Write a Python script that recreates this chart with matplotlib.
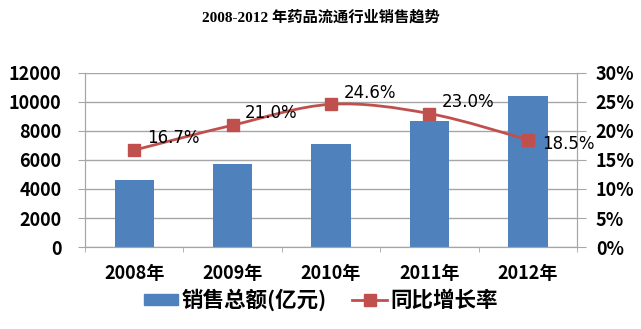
import matplotlib.pyplot as plt
from matplotlib.path import Path
from matplotlib.patches import PathPatch, Patch
from matplotlib.lines import Line2D
import numpy as np

plt.rcParams['font.family'] = ['Noto Sans CJK SC', 'DejaVu Sans']

# Data
years = ["2008年", "2009年", "2010年", "2011年", "2012年"]
sales = [4650, 5690, 7070, 8690, 10400]
growth = [16.7, 21.0, 24.6, 23.0, 18.5]

bar_color = "#4F81BD"
line_color = "#C0504D"
grid_color = "#A6A6A6"

fig = plt.figure(figsize=(6.41, 3.29), dpi=100)
ax = fig.add_axes([0.1326, 0.2492, 0.7676, 0.529])
ax2 = ax.twinx()

x = np.arange(len(years))
ax.bar(x, sales, width=0.4, color=bar_color, zorder=2)
ax.set_xlim(-0.5, len(years) - 0.5)
ax.set_ylim(0, 12000)
ax.set_yticks(range(0, 12001, 2000))
ax.grid(axis="y", color=grid_color, linewidth=1, zorder=0)
ax.set_axisbelow(True)
ax.set_xticks(x)
ax.set_xticklabels(years, fontsize=13, fontweight="bold")
ax.set_xticks(np.arange(-0.5, len(years), 1), minor=True)
ax.tick_params(axis="x", which="major", length=0, pad=12)
ax.tick_params(axis="x", which="minor", length=3.5, color=grid_color)
ax.tick_params(axis="y", length=5, color=grid_color, labelsize=13, pad=12)
for lab in ax.get_yticklabels():
    lab.set_fontweight("bold")

for a in (ax, ax2):
    a.spines["top"].set_visible(False)
    for s in ("left", "right", "bottom"):
        a.spines[s].set_color(grid_color)

ax2.set_ylim(0, 30)
ax2.set_yticks(range(0, 31, 5))
ax2.set_yticklabels([f"{v}%" for v in range(0, 31, 5)])
ax2.tick_params(axis="y", length=6.5, color=grid_color, labelsize=13, pad=7)
for lab in ax2.get_yticklabels():
    lab.set_fontweight("bold")

# smooth line through the points (Catmull-Rom as cubic Bezier)
pts = list(zip(x, growth))
verts = [pts[0]]
codes = [Path.MOVETO]
for i in range(len(pts) - 1):
    p0 = pts[i - 1] if i > 0 else pts[i]
    p1 = pts[i]
    p2 = pts[i + 1]
    p3 = pts[i + 2] if i + 2 < len(pts) else pts[i + 1]
    c1 = (p1[0] + (p2[0] - p0[0]) / 6, p1[1] + (p2[1] - p0[1]) / 6)
    c2 = (p2[0] - (p3[0] - p1[0]) / 6, p2[1] - (p3[1] - p1[1]) / 6)
    verts += [c1, c2, p2]
    codes += [Path.CURVE4] * 3
ax2.add_patch(PathPatch(Path(verts, codes), fill=False, edgecolor=line_color,
                        linewidth=2, zorder=3))
ax2.plot(x, growth, linestyle="none", marker="s", markersize=9,
         color=line_color, zorder=4)

for i, (xi, g) in enumerate(zip(x, growth)):
    if i == len(x) - 1:
        ax2.annotate(f"{g:.1f}%", (xi, g), xytext=(10, -3), textcoords="offset points",
                     ha="left", va="center", fontsize=12, fontfamily="DejaVu Sans")
    else:
        ax2.annotate(f"{g:.1f}%", (xi, g), xytext=(9, 2), textcoords="offset points",
                     ha="left", va="bottom", fontsize=12, fontfamily="DejaVu Sans")

fig.text(0.5, 0.948, "2008-2012 年药品流通行业销售趋势", ha="center", va="center",
         fontsize=11, fontweight="bold",
         family=["Liberation Serif", "Noto Sans CJK SC"])

handles = [Patch(color=bar_color),
           Line2D([], [], color=line_color, linewidth=2, marker="s", markersize=9)]
fig.legend(handles, ["销售总额(亿元)", "同比增长率"], loc="center",
           bbox_to_anchor=(0.5, 0.088), ncol=2, frameon=False,
           prop={"size": 15.5, "weight": "bold"}, handlelength=1.6,
           handleheight=0.45, columnspacing=1.2, handletextpad=0.15)

fig.savefig("out.png", dpi=100)
